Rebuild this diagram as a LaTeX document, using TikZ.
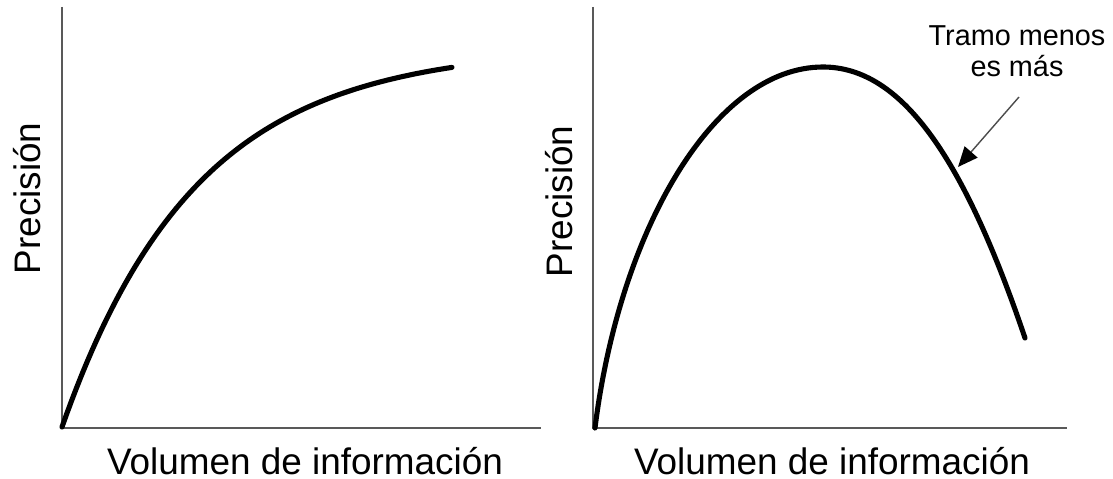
\documentclass[tikz,border=0pt]{standalone}
\usepackage{fontspec}
\setmainfont{Liberation Sans}
\usetikzlibrary{arrows.meta}

\begin{document}
\begin{tikzpicture}[eje/.style={draw=black!65, line width=0.6pt},
    curva/.style={line width=1.45pt, line cap=round},
    etiqueta/.style={font=\fontsize{10.5}{12}\selectfont, inner sep=0pt}]
    \useasboundingbox (0,0) rectangle (11.13,4.79);
    % primer grafico
    \coordinate (o1) at (0.62,0.51);
    \coordinate (y1) at (0.62,4.72);
    \coordinate (x1) at (5.41,0.51);
    \draw[eje] (y1) -- (o1) -- (x1);
    \draw[curva] plot[domain=0:3.9, samples=80] ({0.62+\x},{0.52+3.8*(1-exp(-0.75*\x))});
    \node[etiqueta, anchor=base] (vol1) at (3.05,0.04) {Volumen de información};
    \node[etiqueta, anchor=base, rotate=90] (prec1) at (0.41,2.805) {Precisión};
    % segundo grafico
    \coordinate (o2) at (5.93,0.51);
    \coordinate (y2) at (5.93,4.72);
    \coordinate (x2) at (10.67,0.51);
    \draw[eje] (y2) -- (o2) -- (x2);
    \draw[curva] (5.95,0.51) .. controls (6.20,2.51) and (7.15,4.12) .. (8.23,4.12)
        .. controls (9.03,4.12) and (9.65,3.18) .. (10.25,1.41);
    \node[etiqueta, anchor=base] (vol2) at (8.32,0.04) {Volumen de información};
    \node[etiqueta, anchor=base, rotate=90] (prec2) at (5.72,2.775) {Precisión};
    % tramo
    \node[font=\fontsize{8.2}{8.8}\selectfont, align=center, inner sep=0pt] (tramo) at (10.17,4.275) {Tramo menos\\es más};
    \coordinate (flecha) at (10.19,3.82);
    \coordinate (punta) at (9.58,3.12);
    \draw[black!70, line width=0.4pt, -{Triangle[length=0.2cm, width=0.17cm, black]}] (flecha) -- (punta);
\end{tikzpicture}
\end{document}
